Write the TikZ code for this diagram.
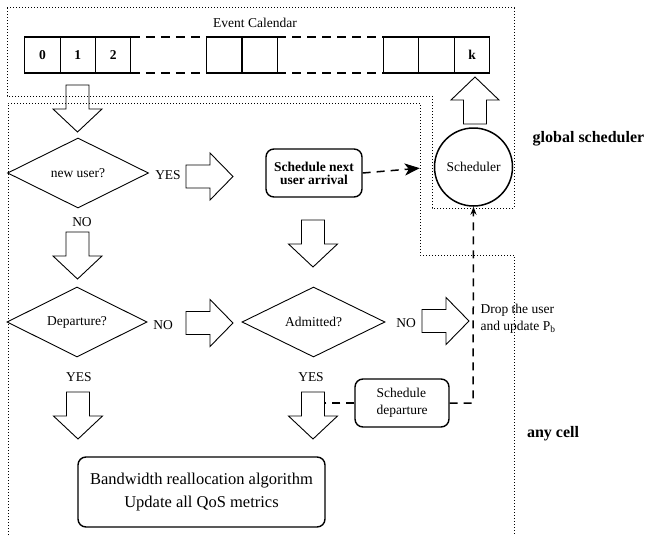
\documentclass[tikz,border=0pt]{standalone}
\usepackage{fontspec}
\setmainfont{Liberation Serif}
\usetikzlibrary{arrows.meta,shapes.geometric}
\tikzset{
  base/.style={font=\fontsize{13.5}{16}\selectfont},
  cell/.style={draw,line width=1.1pt,minimum width=35.4pt,minimum height=36pt,inner sep=0pt,outer sep=0pt,font=\fontsize{13.5}{16}\selectfont\bfseries},
  dia/.style={draw,diamond,aspect=2,inner sep=0pt,line width=0.9pt,font=\fontsize{13.5}{16}\selectfont},
  rbox/.style={draw,rounded corners=8pt,line width=1.4pt,inner sep=0pt},
  blk/.style={draw,line width=0.9pt,line join=miter},
  reg/.style={line width=1pt,dash pattern=on 1pt off 2pt},
  cdash/.style={line width=1.1pt,dash pattern=on 9pt off 6pt},
  conn/.style={line width=1.5pt,dash pattern=on 8pt off 6pt},
  lbl/.style={font=\fontsize{13.5}{16}\selectfont},
  big/.style={font=\fontsize{16}{18}\selectfont\bfseries},
  dnarrow/.pic={\draw[blk] (-11.5,0) -- (11.5,0) -- (11.5,24) -- (24.5,24) -- (0,47) -- (-24.5,24) -- (-11.5,24) -- cycle;},
  rtarrow/.pic={\draw[blk] (0,-11.5) -- (24,-11.5) -- (24,-23.5) -- (47,0) -- (24,23.5) -- (24,11.5) -- (0,11.5) -- cycle;},
  uparrow/.pic={\draw[blk] (-11.5,0) -- (11.5,0) -- (11.5,-24) -- (24,-24) -- (0,-47) -- (-24,-24) -- (-11.5,-24) -- cycle;}
}
\begin{document}
\begin{tikzpicture}[x=1pt,y=-1pt]
\useasboundingbox (0,0) rectangle (647,535);
% regions
\draw[reg] (7,8) -- (514,8) -- (514,208) -- (432,208) -- (432,96) -- (7,96) -- cycle;
\draw[reg] (8,535) -- (8,103) -- (420,103) -- (420,255) -- (514,255) -- (514,535);
% event calendar
\node[lbl] (evc) at (255,23) {Event Calendar};
\node[cell] (c0) at (42.4,55) {0};
\node[cell] (c1) at (77.8,55) {1};
\node[cell] (c2) at (113.2,55) {2};
\node[cell] (c3) at (224.3,55) {};
\node[cell] (c4) at (259.7,55) {};
\node[cell] (c5) at (401.2,55) {};
\node[cell] (c6) at (436.6,55) {};
\node[cell] (c7) at (472.0,55) {k};
\draw[cdash] (c2.north east) -- (c3.north west);
\draw[cdash] (c2.south east) -- (c3.south west);
\draw[cdash] (c4.north east) -- (c5.north west);
\draw[cdash] (c4.south east) -- (c5.south west);
% decisions
\node[dia,minimum width=141pt,minimum height=70pt] (nu) at (78,173) {new user?};
\node[dia,minimum width=140pt,minimum height=70pt] (dep) at (77,322) {Departure?};
\node[dia,minimum width=143pt,minimum height=70pt] (adm) at (313.5,322) {Admitted?};
% boxes
\node[rbox,minimum width=96pt,minimum height=48pt,align=center,font=\fontsize{13.5}{13}\selectfont\bfseries] (sna) at (314,173) {Schedule next\\user arrival};
\node[draw,circle,line width=1.5pt,minimum size=78pt,inner sep=0pt,lbl] (sched) at (473.5,167) {Scheduler};
\node[rbox,minimum width=94pt,minimum height=48pt,align=left,font=\fontsize{13.5}{17}\selectfont] (sd) at (402,403) {Schedule\\departure};
\node[rbox,minimum width=247pt,minimum height=70pt,align=center,font=\fontsize{16.5}{23}\selectfont] (bw) at (201.5,492) {Bandwidth reallocation algorithm\\Update all QoS metrics};
\node[anchor=west,align=left,font=\fontsize{13.5}{17}\selectfont] (drop) at (477,319) {Drop the user\\and update P\textsubscript{b}};
% labels
\node[lbl] (yes1) at (168,175) {YES};
\node[lbl] (no1) at (82,222) {NO};
\node[lbl] (no2) at (163,325) {NO};
\node[lbl] (yes2) at (79,377) {YES};
\node[lbl] (yes3) at (311,377) {YES};
\node[lbl] (no3) at (406,323) {NO};
\node[big] (gs) at (588.5,139) {global scheduler};
\node[big] (ac) at (553,434) {any cell};
% block arrows
\pic at (77.5,85) {dnarrow};
\pic at (77.5,232) {dnarrow};
\pic at (313,220) {dnarrow};
\pic at (78,392) {dnarrow};
\pic at (313,392) {dnarrow};
\pic at (186,176.5) {rtarrow};
\pic at (186,323) {rtarrow};
\pic at (422,321) {rtarrow};
\pic at (475,124) {uparrow};
% connectors
\coordinate (yshaft) at (324.5,403);
\coordinate (bend) at (473,403);
\draw[conn,-{Stealth[length=15pt,width=12pt,inset=4pt]},shorten >=14pt] (sna.east) -- (sched.west);
\draw[conn] (sd.west) -- (yshaft);
\draw[conn,-{Stealth[length=8pt,width=6pt]}] (sd.east) -- (bend) -- (sched.south);
\end{tikzpicture}
\end{document}
